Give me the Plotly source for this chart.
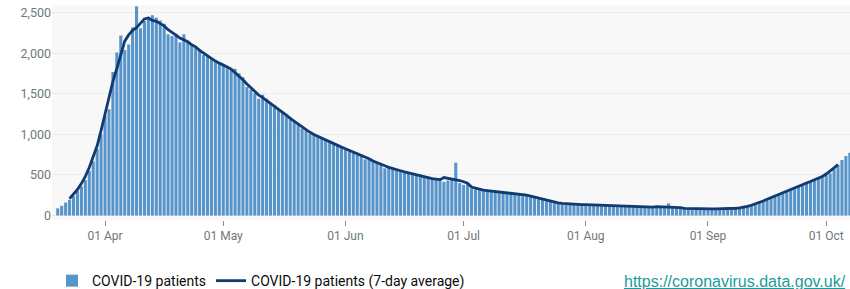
import pandas as pd
import plotly.graph_objects as go

start_date = "2020-03-20"

patients = [
    89, 120, 160, 195, 240, 300, 360, 440, 550, 670, 820, 1000, 1230, 1310,
    1770, 2010, 2220, 2040, 2110, 2320, 2580, 2310, 2400, 2450, 2470, 2440, 2405, 2365,
    2235, 2215, 2240, 2135, 2235, 2150, 2105, 2080, 2050, 1980, 1960, 1930, 1900, 1880,
    1850, 1830, 1805, 1810, 1755, 1705, 1585,
    1550, 1505, 1440, 1490, 1440, 1390, 1360, 1300, 1280, 1240, 1210, 1160, 1120, 1075,
    1050, 1005, 993, 980, 964, 931, 910, 890, 857, 841, 816, 800,
    790, 775, 752, 692, 700, 680, 662, 638, 582, 596, 580, 558, 548, 540, 527, 515,
    500, 488, 476, 468, 460, 448, 438, 415, 432, 438,
    650, 400, 378, 390, 335, 325,
    314, 312, 306, 302, 298, 295, 290, 285, 276, 271, 266, 261, 250, 252,
    240, 218, 198, 182, 168, 158, 150, 146,
    144, 141, 140, 137, 136, 134, 131, 130, 128, 126, 125, 122, 121, 119, 117, 116,
    114, 112, 110, 108, 106, 104, 103, 101, 99, 98, 150, 96, 92, 88,
    86, 84, 83, 82, 82, 81, 81, 80, 81, 82, 82, 83, 85, 87, 90, 96, 105, 118, 135, 160, 183,
    200, 220, 240, 265, 281, 306, 323, 348, 364, 385, 397, 417, 438, 454, 479, 499,
    520, 570, 623, 684, 734, 775,
]

y_tick_values = [0, 500, 1000, 1500, 2000, 2500]
y_tick_labels = ["0", "500", "1,000", "1,500", "2,000", "2,500"]
x_tick_values = ["2020-04-01", "2020-05-01", "2020-06-01", "2020-07-01",
                 "2020-08-01", "2020-09-01", "2020-10-01"]
x_tick_labels = ["01 Apr", "01 May", "01 Jun", "01 Jul", "01 Aug", "01 Sep", "01 Oct"]

dates = pd.date_range(start_date, periods=len(patients), freq="D")
series = pd.Series(patients, index=dates)
avg7 = series.rolling(7, center=True).mean().dropna()

BAR = "#5694CA"
LINE = "#123a70"
GREY = "#6f777b"
FONT = "Roboto"

fig = go.Figure()
fig.add_trace(go.Bar(x=dates, y=patients, name="COVID-19 patients",
                     marker=dict(color=BAR, line=dict(width=0))))
fig.add_trace(go.Scatter(x=avg7.index, y=avg7.values, mode="lines",
                         name="COVID-19 patients (7-day average)",
                         line=dict(color=LINE, width=2.8)))

fig.update_layout(
    width=850, height=289,
    margin=dict(l=52, r=0, t=5, b=69, autoexpand=False),
    paper_bgcolor="#ffffff",
    plot_bgcolor="#f8f8f8",
    bargap=0.22,
    font=dict(family=FONT, size=12, color=GREY),
    showlegend=True,
    legend=dict(orientation="h", x=0.0, xanchor="left", y=-0.284, yanchor="middle",
                font=dict(family=FONT, size=14, color="#0b0c0c"),
                bgcolor="rgba(0,0,0,0)"),
    annotations=[dict(
        text="<u>https://coronavirus.data.gov.uk/</u>",
        x=0.9975, xref="paper", xanchor="right",
        y=-0.284, yref="paper", yanchor="middle",
        showarrow=False,
        font=dict(family="Liberation Sans", size=16, color="#1a9c9c"),
    )],
)
fig.update_xaxes(
    type="date",
    range=["2020-03-18 13:00", "2020-10-07 01:00"],
    tickvals=x_tick_values, ticktext=x_tick_labels,
    ticks="outside", ticklen=5, tickcolor="#8a8a8a", tickwidth=1,
    showgrid=False, zeroline=False, showline=False,
    tickfont=dict(family=FONT, size=12, color=GREY),
)
fig.update_yaxes(
    range=[-55, 2596],
    tickvals=y_tick_values, ticktext=y_tick_labels,
    showgrid=True, gridcolor="#ebebeb", gridwidth=1,
    zeroline=False, showline=False, ticks="",
    tickfont=dict(family=FONT, size=12.5, color=GREY),
)

fig.write_html("out.html", config={"displayModeBar": False},
               post_script="document.body.style.margin='0px';")
